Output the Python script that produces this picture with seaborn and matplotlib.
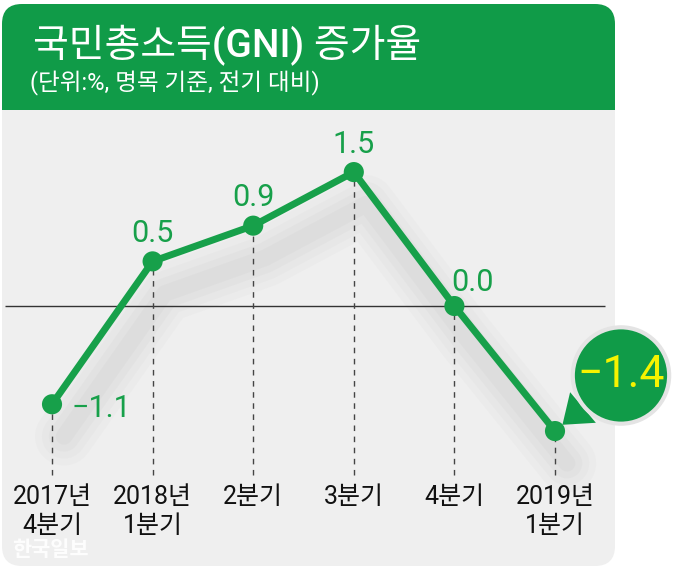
import matplotlib.pyplot as plt
import seaborn as sns
import pandas as pd
from matplotlib.patches import FancyBboxPatch, Rectangle

# data
quarters = ['2017년\n4분기', '2018년\n1분기', '2분기', '3분기', '4분기', '2019년\n1분기']
growth = [-1.1, 0.5, 0.9, 1.5, 0.0, -1.4]
value_labels = ['−1.1', '0.5', '0.9', '1.5', '0.0', '−1.4']

green = '#109b48'
line_green = '#17a04a'
panel_grey = '#efefef'

sns.set_theme(style='white')
plt.rcParams['font.family'] = ['Roboto', 'Noto Sans CJK KR', 'DejaVu Sans']

df = pd.DataFrame({'pos': range(len(quarters)), 'growth': growth})

fig = plt.figure(figsize=(6.8, 5.7), dpi=100)
fig.patch.set_facecolor('white')

# background decorations in pixel coordinates
bg = fig.add_axes([0, 0, 1, 1])
bg.set_xlim(0, 680)
bg.set_ylim(570, 0)
bg.axis('off')
bg.add_patch(FancyBboxPatch((2, 4), 613, 562, boxstyle='round,pad=0,rounding_size=20',
                            fc=panel_grey, ec='none'))
bg.add_patch(FancyBboxPatch((2, 4), 613, 140, boxstyle='round,pad=0,rounding_size=20',
                            fc=green, ec='none'))
bg.add_patch(Rectangle((2, 110), 613, 40, fc=panel_grey, ec='none'))
bg.text(33, 45, '국민총소득(GNI) 증가율', color='white', fontsize=28,
        fontweight='medium', va='center', ha='left')
bg.text(30, 83, '(단위:%, 명목 기준, 전기 대비)', color='white', fontsize=17,
        va='center', ha='left')
bg.text(12, 550, '한국일보', color='white', alpha=0.9, fontsize=15, va='center',
        ha='left', fontweight='bold')

# main chart
ax = fig.add_axes([0, 0, 1, 1])
ax.patch.set_alpha(0)

# soft shadow under the line
for w, a in [(42, 0.018), (32, 0.022), (22, 0.028), (12, 0.03)]:
    ax.plot(df['pos'] + 0.12, df['growth'] - 0.36, color='#555555', lw=w, alpha=a,
            solid_capstyle='round', solid_joinstyle='round', zorder=1)

ax.hlines(0, -0.467, 5.497, color='#333333', lw=1, zorder=2)
ax.vlines(df['pos'], -1.89, df['growth'], color='#444444', lw=1,
          linestyles=(0, (4, 4)), zorder=2)

sns.lineplot(data=df, x='pos', y='growth', color=line_green, lw=5, ax=ax,
             zorder=3, solid_joinstyle='round')
sns.scatterplot(data=df, x='pos', y='growth', color=line_green, s=210,
                edgecolor='none', ax=ax, zorder=4)
ax.set_xlim(-0.517, 6.2425)
ax.set_ylim(-2.956, 3.427)
ax.axis('off')

# value labels
offsets = {0: (14, -3, 'left'), 1: (0, 20, 'center'), 2: (0, 20, 'center'),
           3: (0, 20, 'center'), 4: (13, 17, 'center')}
for i, (dx, dy, ha) in offsets.items():
    ax.annotate(value_labels[i], (i, growth[i]), xytext=(dx, dy),
                textcoords='offset points', ha=ha, va='center',
                color=line_green, fontsize=22)

# callout for last value
ax.annotate(value_labels[5], (5, growth[5]), xytext=(47.5, 40),
            textcoords='offset points', ha='center', va='center',
            color='#f6f300', fontsize=32,
            bbox=dict(boxstyle='circle,pad=0.1', fc=green, ec='#e4e4e4', lw=3),
            arrowprops=dict(arrowstyle='wedge,tail_width=0.9,shrink_factor=0.5',
                            fc=green, ec='none', shrinkA=0, shrinkB=7),
            zorder=5)

# category labels
for i, q in enumerate(quarters):
    ax.text(i, 0.149, q, transform=ax.get_xaxis_transform(), ha='center',
            va='top', fontsize=18, color='#111111', linespacing=1.25)

fig.savefig('out.png', dpi=100)
